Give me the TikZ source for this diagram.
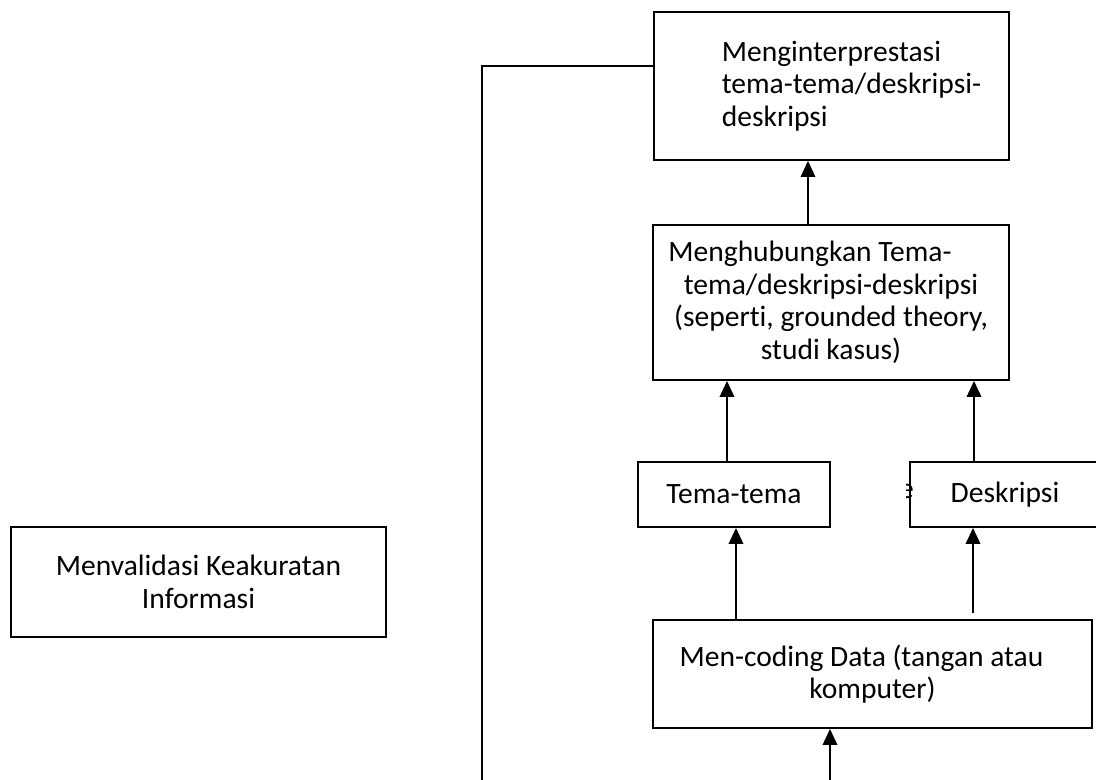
\documentclass[tikz,border=0pt]{standalone}
\usepackage{fontspec}
\setmainfont{Carlito}[Ligatures=NoCommon]
\usetikzlibrary{arrows.meta}

\begin{document}
\begin{tikzpicture}[
  x=0.02cm, y=-0.02cm,
  box/.style={rectangle, draw, line width=1.1pt, inner sep=0pt, font=\fontsize{16.8}{18.5}\selectfont},
  txt/.style={inner sep=0pt, font=\fontsize{16.8}{18.5}\selectfont},
  arr/.style={-{Triangle[length=0.32cm,width=0.29cm]}, line width=1.1pt}
]
\useasboundingbox (0,0) rectangle (1096,780);

\node[box, minimum width=7.1cm, minimum height=2.96cm, align=left] (interp) at (831.5,86)
  {\hspace*{0.8cm}Menginterprestasi\\\hspace*{0.8cm}tema-tema/deskripsi-\\\hspace*{0.8cm}deskripsi};

\node[box, minimum width=7.12cm, minimum height=3.1cm, align=center] (hubung) at (831,302.5)
  {Menghubungkan Tema-\hspace*{0.84cm}\\tema/deskripsi-deskripsi\\(seperti, grounded theory,\\studi kasus)};

\node[box, minimum width=3.84cm, minimum height=1.3cm] (tema) at (734,494.5) {Tema-tema};

\node[box, fill=white, minimum width=3.8cm, minimum height=1.3cm] (desk) at (1005,494.5) {Deskripsi};

% potongan huruf di tepi kotak Deskripsi
\begin{scope}
  \clip (906,470) rectangle (914,515);
  \node[txt] (frag) at (906.5,491) {e};
\end{scope}

\node[box, minimum width=8.78cm, minimum height=2.16cm, align=center] (coding) at (872.5,674)
  {Men-coding Data (tangan atau\hspace*{0.44cm}\\komputer)};

\node[box, minimum width=7.5cm, minimum height=2.2cm, align=center] (valid) at (198.5,582)
  {Menvalidasi Keakuratan\\Informasi};

\coordinate (a1) at (727,0);
\coordinate (a2) at (974,0);
\coordinate (a3) at (808,0);
\coordinate (a4) at (736,0);
\coordinate (a5) at (973,613);
\coordinate (a6) at (830,780);
\coordinate (lnk) at (482,780);

\draw[arr] (hubung.north -| a3) -- (interp.south -| a3);
\draw[arr] (tema.north -| a1) -- (hubung.south -| a1);
\draw[arr] (desk.north -| a2) -- (hubung.south -| a2);
\draw[arr] (coding.north -| a4) -- (tema.south -| a4);
\draw[arr] (a5) -- (desk.south -| a5);
\draw[arr] (a6) -- (coding.south -| a6);

\draw[line width=1.1pt] ([yshift=0.4cm]interp.west) -| (lnk);

\end{tikzpicture}
\end{document}
